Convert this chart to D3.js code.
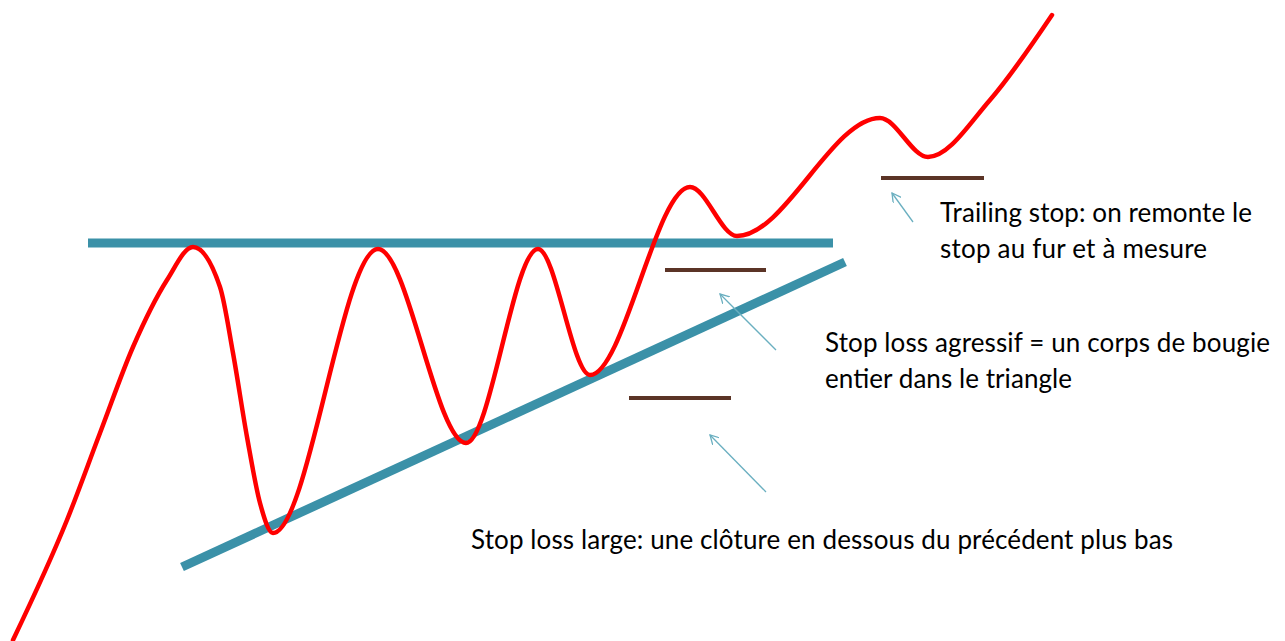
<!DOCTYPE html>
<html>
<head>
<meta charset="utf-8">
<script src="https://cdn.jsdelivr.net/npm/d3@7/dist/d3.min.js"></script>
<style>
  html, body { margin: 0; padding: 0; background: #fff; }
  svg { display: block; }
</style>
</head>
<body>
<svg id="chart"></svg>
<script>
// price path (time, price)
var priceT = [13, 67, 100, 133, 167, 193, 220, 233, 247, 260, 273, 378, 466, 538, 590, 690, 737, 880, 928, 990, 1052];
var priceV = [1, 121, 208, 294, 361, 394, 354, 288, 204, 138, 108, 392, 198, 392, 266, 454, 405, 523, 484, 541, 626];

// resistance (flat) and rising support
var resistT = [88, 833], resistV = [398, 398];
var supportT = [182, 845], supportV = [74, 379];

// stop levels: [start, end, level]
var stops = [[665, 766, 371], [629, 731, 243], [881, 984, 463]];

// arrows: [tailT, tailV, headT, headV]
var arrows = [[913, 419, 892, 448], [776, 291, 720, 347], [766, 149, 710, 206]];

// annotations, with widths measured on the picture
var notes = [
  { t: 940, v: 419, lines: ["Trailing stop: on remonte le", "stop au fur et à mesure"], w: [312, 267] },
  { t: 825, v: 289, lines: ["Stop loss agressif = un corps de bougie", "entier dans le triangle"], w: [445, 247] },
  { t: 471, v: 92, lines: ["Stop loss large: une clôture en dessous du précédent plus bas"], w: [702] }
];

var width = 1285, height = 641;
var teal = "#3b91a8", red = "#ff0000", brown = "#5b3426", arrowCol = "#6aafc0";

var svg = d3.select("#chart").attr("width", width).attr("height", height);

var x = d3.scaleLinear().domain([0, width]).range([0, width]);
var y = d3.scaleLinear().domain([0, height]).range([height, 0]);

var defs = svg.append("defs");
defs.append("marker")
    .attr("id", "arr")
    .attr("viewBox", "0 0 10 10")
    .attr("refX", 9).attr("refY", 5)
    .attr("markerWidth", 10).attr("markerHeight", 10)
    .attr("markerUnits", "userSpaceOnUse")
    .attr("orient", "auto")
  .append("path")
    .attr("d", "M0,0 L9,5 L0,10")
    .attr("fill", "none")
    .attr("stroke", arrowCol)
    .attr("stroke-width", 1.3);

var line = d3.line().x(function(d){ return x(d[0]); }).y(function(d){ return y(d[1]); });

// triangle borders
svg.append("path")
    .attr("d", line(d3.zip(resistT, resistV)))
    .attr("stroke", teal).attr("stroke-width", 9).attr("fill", "none");
svg.append("path")
    .attr("d", line(d3.zip(supportT, supportV)))
    .attr("stroke", teal).attr("stroke-width", 9).attr("fill", "none");

// stops
svg.selectAll(".stop")
    .data(stops)
    .enter()
    .append("line")
    .attr("class", "stop")
    .attr("x1", function(d){ return x(d[0]); })
    .attr("x2", function(d){ return x(d[1]); })
    .attr("y1", function(d){ return y(d[2]); })
    .attr("y2", function(d){ return y(d[2]); })
    .attr("stroke", brown).attr("stroke-width", 4);

// price curve
var curve = d3.line()
    .x(function(d){ return x(d[0]); })
    .y(function(d){ return y(d[1]); })
    .curve(d3.curveMonotoneX);
svg.append("path")
    .attr("d", curve(d3.zip(priceT, priceV)))
    .attr("stroke", red).attr("stroke-width", 4.5).attr("fill", "none")
    .attr("stroke-linecap", "round");

// arrows
svg.selectAll(".arrow")
    .data(arrows)
    .enter()
    .append("line")
    .attr("class", "arrow")
    .attr("x1", function(d){ return x(d[0]); })
    .attr("y1", function(d){ return y(d[1]); })
    .attr("x2", function(d){ return x(d[2]); })
    .attr("y2", function(d){ return y(d[3]); })
    .attr("stroke", arrowCol).attr("stroke-width", 1.3)
    .attr("marker-end", "url(#arr)");

// text
notes.forEach(function(n){
  n.lines.forEach(function(l, i){
    svg.append("text")
      .attr("x", x(n.t)).attr("y", y(n.v) + i * 36)
      .attr("font-family", "Lato, 'Open Sans', sans-serif")
      .attr("font-size", 26)
      .attr("fill", "#000")
      .attr("textLength", n.w[i])
      .attr("lengthAdjust", "spacing")
      .text(l);
  });
});
</script>
</body>
</html>
